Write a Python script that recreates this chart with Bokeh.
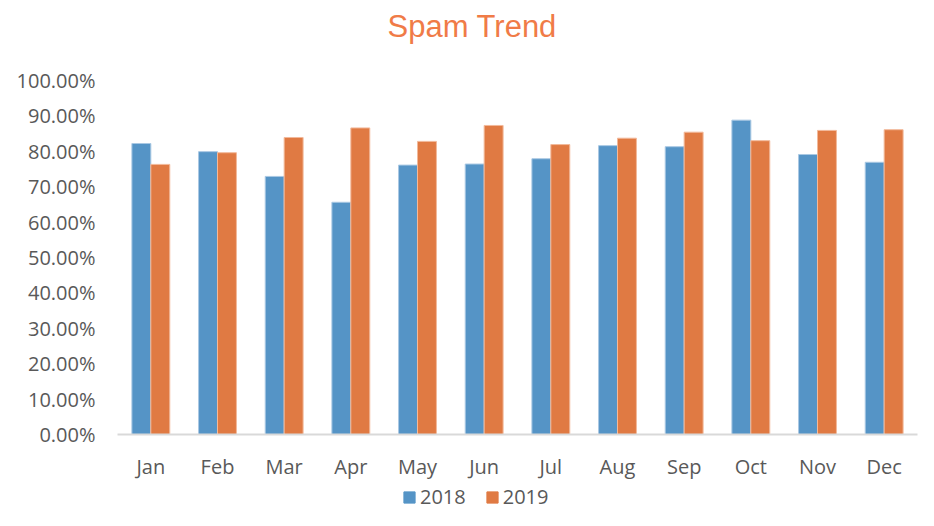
from bokeh.plotting import figure
from bokeh.layouts import column
from bokeh.models import NumeralTickFormatter, FixedTicker, Legend, LegendItem, ColumnDataSource, Range1d
from bokeh.transform import dodge
from bokeh.embed import file_html
from bokeh.resources import INLINE

months = ["Jan", "Feb", "Mar", "Apr", "May", "Jun", "Jul", "Aug", "Sep", "Oct", "Nov", "Dec"]
spam_2018 = [0.822, 0.799, 0.729, 0.656, 0.761, 0.764, 0.779, 0.816, 0.813, 0.888, 0.791, 0.769]
spam_2019 = [0.763, 0.796, 0.839, 0.866, 0.828, 0.873, 0.819, 0.837, 0.854, 0.830, 0.859, 0.861]
series_names = ["2018", "2019"]
y_ticks = [0.0, 0.1, 0.2, 0.3, 0.4, 0.5, 0.6, 0.7, 0.8, 0.9, 1.0]

BLUE = "#5594C6"
ORANGE = "#E07A43"
TEXT = "#595959"

src = ColumnDataSource(dict(m=months, a=spam_2018, b=spam_2019))

# title strip
p0 = figure(width=918, height=52, x_range=Range1d(0, 1), y_range=Range1d(0, 1),
            output_backend="svg", toolbar_location=None,
            min_border_left=0, min_border_right=0, min_border_top=0, min_border_bottom=0)
p0.title.text = "Spam Trend"
p0.title.align = "left"
p0.title.offset = 270
p0.title.standoff = 17
p0.title.text_color = "#F07B47"
p0.title.text_font = "Liberation Sans"
p0.title.text_font_size = "31px"
p0.title.text_font_style = "normal"
p0.axis.visible = False
p0.xgrid.visible = False
p0.ygrid.visible = False
p0.outline_line_color = None

# main chart
p = figure(width=918, height=432, x_range=months, y_range=Range1d(0, 1.0),
           output_backend="svg", toolbar_location=None,
           min_border_left=117, min_border_right=1, min_border_top=28, min_border_bottom=50)
p.title.text = ""

p.vbar(x=dodge("m", -0.142, range=p.x_range), top="a", width=0.284, source=src,
       fill_color=BLUE, line_color="#A9C8E3", line_width=1)
p.vbar(x=dodge("m", 0.142, range=p.x_range), top="b", width=0.284, source=src,
       fill_color=ORANGE, line_color="#F2B99A", line_width=1)

p.xgrid.visible = False
p.ygrid.visible = False
p.outline_line_color = None

p.yaxis.ticker = FixedTicker(ticks=y_ticks)
p.yaxis.formatter = NumeralTickFormatter(format="0.00%")
p.yaxis.axis_line_color = None
p.yaxis.major_tick_line_color = None
p.yaxis.minor_tick_line_color = None
p.yaxis.major_label_text_font = "Open Sans"
p.yaxis.major_label_text_font_size = "20px"
p.yaxis.major_label_text_color = TEXT
p.yaxis.major_label_standoff = 16

p.xaxis.axis_line_color = "#D9D9D9"
p.xaxis.axis_line_width = 2
p.xaxis.major_tick_line_color = None
p.xaxis.minor_tick_line_color = None
p.xaxis.major_label_text_font = "Open Sans"
p.xaxis.major_label_text_font_size = "20px"
p.xaxis.major_label_text_color = TEXT
p.xaxis.major_label_standoff = 12

# legend strip (bars fall outside its visible y range; only legend swatches show)
p2 = figure(width=918, height=26, x_range=months, y_range=Range1d(10, 11),
            output_backend="svg", toolbar_location=None,
            min_border_left=0, min_border_right=0, min_border_top=0, min_border_bottom=0)
p2.axis.visible = False
p2.xgrid.visible = False
p2.ygrid.visible = False
p2.outline_line_color = None
l1 = p2.vbar(x="m", top="a", width=0.3, source=src, fill_color=BLUE, line_color=BLUE)
l2 = p2.vbar(x="m", top="b", width=0.3, source=src, fill_color=ORANGE, line_color=ORANGE)

legend = Legend(items=[LegendItem(label=series_names[0], renderers=[l1]),
                       LegendItem(label=series_names[1], renderers=[l2])],
                orientation="horizontal", location=(285, 0),
                label_text_font="Open Sans", label_text_font_size="20px",
                label_text_color=TEXT, glyph_width=14, glyph_height=14,
                border_line_color=None, background_fill_alpha=0,
                spacing=19, label_standoff=4, padding=0, margin=0)
p2.add_layout(legend, "center")

open("out.html", "w").write(file_html(column(p0, p, p2, spacing=0), INLINE))
